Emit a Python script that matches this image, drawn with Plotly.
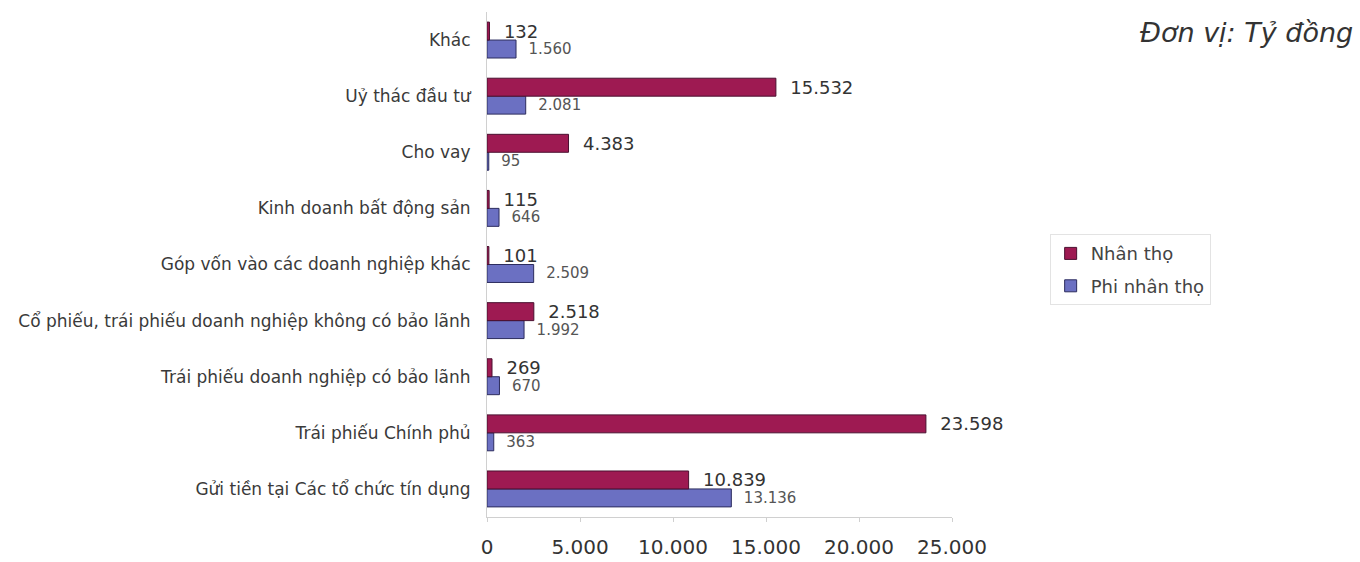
import plotly.graph_objects as go

categories = [
    "Gửi tiền tại Các tổ chức tín dụng",
    "Trái phiếu Chính phủ",
    "Trái phiếu doanh nghiệp có bảo lãnh",
    "Cổ phiếu, trái phiếu doanh nghiệp không có bảo lãnh",
    "Góp vốn vào các doanh nghiệp khác",
    "Kinh doanh bất động sản",
    "Cho vay",
    "Uỷ thác đầu tư",
    "Khác",
]
nhan_tho = [10839, 23598, 269, 2518, 101, 115, 4383, 15532, 132]
phi_nhan_tho = [13136, 363, 670, 1992, 2509, 646, 95, 2081, 1560]
x_ticks = [0, 5000, 10000, 15000, 20000, 25000]

font_family = "DejaVu Sans, Verdana, sans-serif"
pad = "\u00a0\u00a0"

fig = go.Figure()
fig.add_trace(go.Bar(
    name="Phi nhân thọ", y=categories, x=phi_nhan_tho, orientation="h",
    legendgroup="b", legendrank=2,
    marker=dict(color="#6b70c2", line=dict(color="#2c2c5e", width=1)),
    texttemplate=pad + "%{x:,}", textposition="outside", cliponaxis=False,
    constraintext="none",
    textfont=dict(size=15, color="#555555", family=font_family),
))
fig.add_trace(go.Bar(
    name="Nhân thọ", y=categories, x=nhan_tho, orientation="h",
    legendgroup="a", legendrank=1,
    marker=dict(color="#9e1a52", line=dict(color="#4a1030", width=1)),
    texttemplate=pad + "%{x:,}", textposition="outside", cliponaxis=False,
    constraintext="none",
    textfont=dict(size=18, color="#333333", family=font_family),
))

fig.update_layout(
    width=1360, height=562,
    margin=dict(l=487, r=408, t=12, b=45),
    paper_bgcolor="white", plot_bgcolor="white",
    barmode="group", bargap=0.36, bargroupgap=0,
    separators=",.",
    font=dict(family=font_family, color="#333333"),
    legend=dict(
        x=1.21, y=0.56, xanchor="left", yanchor="top",
        traceorder="grouped", tracegroupgap=6,
        font=dict(size=18, color="#444444"),
        bordercolor="#e3e3e3", borderwidth=1, bgcolor="white",
        itemwidth=30,
    ),
    xaxis=dict(
        range=[0, 25000], tickvals=x_ticks, tickformat=",",
        showgrid=False, zeroline=False, automargin=False,
        showline=True, linecolor="#d0d0d0", linewidth=1,
        ticks="outside", ticklen=4, tickcolor="#d0d0d0",
        ticklabelstandoff=8,
        tickfont=dict(size=20, color="#333333"),
        fixedrange=True,
    ),
    yaxis=dict(
        showgrid=False, zeroline=False, automargin=False,
        showline=True, linecolor="#d0d0d0", linewidth=1,
        ticks="", ticklabelstandoff=12,
        tickfont=dict(size=17, color="#3a3a3a"),
        fixedrange=True,
    ),
    annotations=[dict(
        text="Đơn vị: Tỷ đồng", xref="paper", yref="paper",
        x=1.867, y=0.96, xanchor="right", yanchor="middle",
        showarrow=False,
        font=dict(size=27, color="#333333", style="italic", family=font_family),
    )],
)

fig.write_html("out.html")
